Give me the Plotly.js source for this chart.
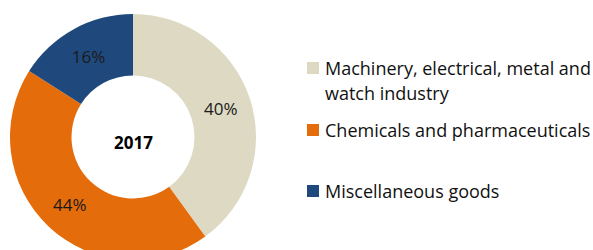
<!DOCTYPE html>
<html>
<head>
<meta charset="utf-8">
<script src="https://cdn.plot.ly/plotly-3.0.1.min.js"></script>
<style>
html, body { margin: 0; padding: 0; background: #fff; }
#wrap { width: 593px; height: 250px; overflow: hidden; position: relative; }
#chart { width: 593px; height: 266px; }
</style>
</head>
<body>
<div id="wrap"><div id="chart"></div></div>
<script>
// ---- data ----
const categories = ["Machinery, electrical, metal and watch industry", "Chemicals and pharmaceuticals", "Miscellaneous goods"];
const legendLines = [["Machinery, electrical, metal and", "watch industry"], ["Chemicals and pharmaceuticals"], ["Miscellaneous goods"]];
const shares = [40, 44, 16];
const colors = ["#DDD9C3", "#E46C0A", "#1F497D"];
const centerLabel = "2017";

// ---- layout geometry (pixels) ----
const W = 593, H = 266;
const cx = 133, cy = 137, R = 123;
const font = "Open Sans, sans-serif";

const trace = {
  type: "pie",
  labels: categories,
  values: shares,
  sort: false,
  direction: "clockwise",
  rotation: 0,
  hole: 0.5,
  marker: { colors: colors, line: { width: 0 } },
  texttemplate: "%{value}%",
  textposition: "inside",
  insidetextorientation: "horizontal",
  insidetextfont: { family: font, size: 17, color: "#1a1a1a" },
  showlegend: false,
  hoverinfo: "label+percent",
  domain: { x: [(cx - R) / W, (cx + R) / W], y: [1 - (cy + R) / H, 1 - (cy - R) / H] }
};

const annotations = [{
  text: "<b>" + centerLabel + "</b>",
  x: cx / W, y: 1 - 142 / H, xref: "paper", yref: "paper",
  xanchor: "center", yanchor: "middle", showarrow: false,
  font: { family: font, size: 17, color: "#000" }
}];
const shapes = [];

// legend drawn with text annotations and square shapes
const legendTop = [62, 124, 185];   // square tops (px)
const sq = 12, sqX = 307, txtX = 325, lineGap = 24.5;
legendLines.forEach((lines, i) => {
  shapes.push({
    type: "rect", xref: "paper", yref: "paper",
    x0: sqX / W, x1: (sqX + sq) / W,
    y0: 1 - (legendTop[i] + sq) / H, y1: 1 - legendTop[i] / H,
    fillcolor: colors[i], line: { width: 0 }
  });
  lines.forEach((ln, j) => {
    annotations.push({
      text: ln, x: txtX / W, y: 1 - (legendTop[i] + sq / 2 + j * lineGap) / H,
      xref: "paper", yref: "paper", xanchor: "left", yanchor: "middle",
      showarrow: false, xshift: -2,
      font: { family: font, size: 18, color: "#111" }
    });
  });
});

const layout = {
  width: W, height: H,
  margin: { l: 0, r: 0, t: 0, b: 0 },
  paper_bgcolor: "#fff",
  plot_bgcolor: "#fff",
  showlegend: false,
  annotations: annotations,
  shapes: shapes
};

Plotly.newPlot("chart", [trace], layout, { displayModeBar: false, staticPlot: true });
</script>
</body>
</html>
